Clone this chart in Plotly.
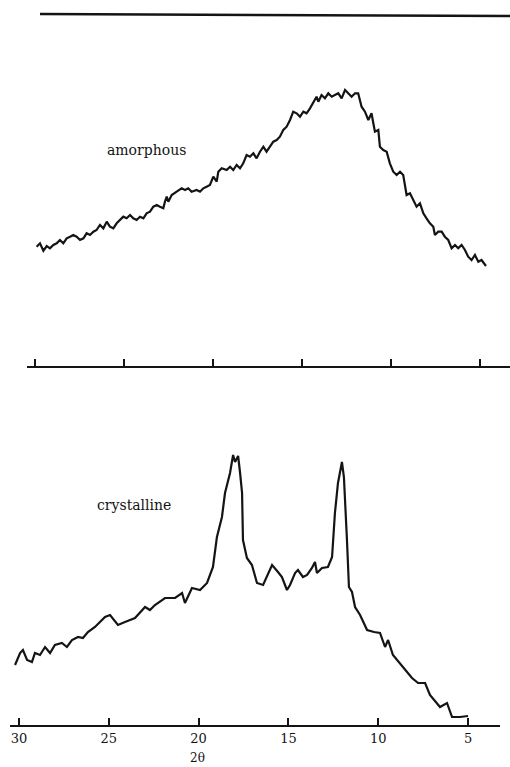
import plotly.graph_objects as go

# ---------------- data ----------------
# amorphous pattern: 2theta (deg) and intensity (arbitrary units)
amor_2theta = [29.91, 29.72, 29.53, 29.34, 29.16, 28.97, 28.78, 28.60, 28.41, 28.22,
               28.03, 27.85, 27.66, 27.47, 27.28, 27.10, 26.91, 26.72, 26.54, 26.35,
               26.16, 25.97, 25.79, 25.60, 25.41, 25.22, 25.04, 24.85, 24.66, 24.48,
               24.29, 24.10, 23.91, 23.73, 23.54, 23.35, 23.16, 22.98, 22.79, 22.70,
               22.60, 22.51, 22.32, 22.04, 21.76, 21.57, 21.39, 21.20, 20.92, 20.73,
               20.54, 20.36, 20.17, 19.98, 19.79, 19.70, 19.51, 19.23, 19.04, 18.86,
               18.67, 18.48, 18.30, 18.11, 17.92, 17.73, 17.55, 17.36, 17.17, 16.99,
               16.80, 16.61, 16.42, 16.24, 16.05, 15.86, 15.67, 15.49, 15.30, 15.11,
               14.92, 14.74, 14.55, 14.36, 14.18, 14.08, 13.90, 13.71, 13.52, 13.33,
               13.15, 12.96, 12.77, 12.58, 12.40, 12.21, 12.02, 11.84, 11.65, 11.46,
               11.27, 11.09, 10.99, 10.90, 10.71, 10.62, 10.43, 10.24, 10.06, 9.87,
               9.68, 9.49, 9.31, 9.12, 8.93, 8.75, 8.56, 8.37, 8.18, 8.00,
               7.81, 7.62, 7.53, 7.34, 7.15, 6.97, 6.78, 6.59, 6.40, 6.22,
               6.03, 5.84, 5.66, 5.47, 5.28, 5.09, 4.91, 4.66]
amor_int = [119.3, 122.7, 115.3, 120.0, 117.7, 121.0, 122.7, 126.0, 122.7, 127.7,
            129.3, 131.0, 129.3, 126.0, 127.7, 132.7, 131.0, 134.3, 136.0, 141.0,
            137.7, 144.3, 139.3, 137.7, 142.7, 146.0, 149.3, 147.7, 151.0, 147.7,
            146.0, 149.3, 147.7, 152.7, 154.3, 159.3, 161.0, 159.3, 157.7, 164.3,
            169.3, 164.3, 171.0, 174.3, 177.7, 176.0, 177.7, 174.3, 176.0, 174.3,
            177.7, 179.3, 181.0, 189.3, 184.3, 194.3, 197.7, 196.0, 199.3, 196.0,
            201.0, 197.7, 202.7, 211.0, 209.3, 212.7, 207.7, 214.3, 219.3, 214.3,
            219.3, 224.3, 226.0, 229.3, 236.0, 239.3, 246.0, 254.3, 252.7, 249.3,
            254.3, 252.7, 257.7, 264.3, 269.3, 264.3, 271.0, 267.7, 272.7, 269.3,
            271.0, 272.7, 267.7, 276.0, 272.7, 269.3, 272.7, 272.7, 259.3, 254.3,
            246.0, 252.7, 242.7, 234.3, 236.0, 219.3, 216.0, 214.3, 202.7, 194.3,
            191.0, 194.3, 191.0, 171.0, 172.7, 166.0, 159.3, 162.7, 152.7, 147.7,
            142.7, 139.3, 131.0, 134.3, 134.3, 129.3, 126.0, 117.7, 121.0, 117.7,
            121.0, 116.0, 109.3, 106.0, 111.0, 104.3, 106.0, 100.0]

# crystalline pattern
cryst_2theta = [30.22, 29.94, 29.78, 29.55, 29.28, 29.11, 28.83, 28.55, 28.27, 28.00,
                27.61, 27.33, 27.05, 26.71, 26.44, 26.16, 25.77, 25.49, 25.21, 24.93,
                24.49, 24.10, 23.54, 22.98, 22.71, 22.43, 21.87, 21.31, 20.92, 20.76,
                20.37, 19.92, 19.53, 19.20, 18.98, 18.70, 18.53, 18.25, 18.08, 17.97,
                17.80, 17.69, 17.58, 17.53, 17.31, 17.03, 16.75, 16.41, 15.91, 15.58,
                15.36, 15.08, 14.91, 14.63, 14.47, 14.19, 13.96, 13.69, 13.52, 13.41,
                13.13, 12.80, 12.57, 12.41, 12.24, 12.02, 11.91, 11.74, 11.63, 11.46,
                11.29, 11.01, 10.62, 10.23, 9.90, 9.62, 9.45, 9.18, 8.62, 8.12,
                7.78, 7.39, 7.12, 6.73, 6.56, 6.17, 5.89, 5.45, 5.00]
cryst_int = [60, 72, 75, 65, 63, 72, 70, 78, 72, 80,
             82, 78, 85, 88, 87, 93, 98, 103, 108, 110,
             100, 103, 107, 118, 115, 120, 127, 127, 132, 122,
             137, 135, 142, 158, 188, 208, 232, 252, 270, 263,
             269, 252, 232, 185, 167, 160, 142, 140, 160, 153,
             148, 135, 140, 152, 155, 148, 150, 157, 163, 152,
             157, 158, 168, 212, 242, 263, 248, 185, 138, 133,
             118, 110, 95, 93, 92, 78, 85, 70, 58, 47,
             42, 42, 30, 22, 18, 22, 8, 8, 9]

tick_vals = [30, 25, 20, 15, 10, 5]
tick_text = ["30", "25", "20", "15", "10", "5"]
label_amor = "amorphous"
label_cryst = "crystalline"
x_title = "2θ"

# ---------------- figure ----------------
W, H = 510, 767
INK = "#141414"
SERIF = "DejaVu Serif, Liberation Serif, serif"

fig = go.Figure()
fig.add_trace(go.Scatter(x=amor_2theta, y=amor_int, mode="lines",
                         line=dict(color=INK, width=2.2), xaxis="x2", yaxis="y2",
                         showlegend=False, hoverinfo="skip"))
fig.add_trace(go.Scatter(x=cryst_2theta, y=cryst_int, mode="lines",
                         line=dict(color=INK, width=2.2), xaxis="x", yaxis="y",
                         showlegend=False, hoverinfo="skip"))

def py(p):  # pixel row -> paper fraction
    return (H - p) / H

axis_common = dict(showline=True, linecolor=INK, linewidth=2, ticks="inside",
                   ticklen=7, tickwidth=2, tickcolor=INK, showgrid=False,
                   zeroline=False, tickvals=tick_vals)

fig.update_layout(
    width=W, height=H, autosize=False,
    margin=dict(l=0, r=0, t=0, b=0),
    paper_bgcolor="white", plot_bgcolor="white",
    xaxis=dict(domain=[10 / W, 500 / W], range=[30.5, 3.22], anchor="y",
               ticktext=tick_text, showticklabels=True,
               tickfont=dict(family=SERIF, size=13, color=INK), **axis_common),
    yaxis=dict(domain=[py(725), py(425)], range=[0, 300], visible=False),
    xaxis2=dict(domain=[27 / W, 1.0], range=[30.45, 3.31], anchor="y2",
                showticklabels=False, **axis_common),
    yaxis2=dict(domain=[py(366), py(66)], range=[0, 300], visible=False),
    shapes=[dict(type="line", xref="paper", yref="paper",
                 x0=40 / W, x1=1.0, y0=py(14), y1=py(16),
                 line=dict(color=INK, width=2.5))],
    annotations=[
        dict(text=label_amor, xref="paper", yref="paper", x=105 / W, y=py(140),
             showarrow=False, font=dict(family=SERIF, size=14, color=INK)),
        dict(text=label_cryst, xref="paper", yref="paper", x=95 / W, y=py(515),
             showarrow=False, font=dict(family=SERIF, size=14, color=INK)),
        dict(text=x_title, xref="paper", yref="paper", x=197 / W, y=py(758),
             yanchor="middle", showarrow=False,
             font=dict(family=SERIF, size=12, color=INK)),
    ],
)

fig.write_html("out.html")
